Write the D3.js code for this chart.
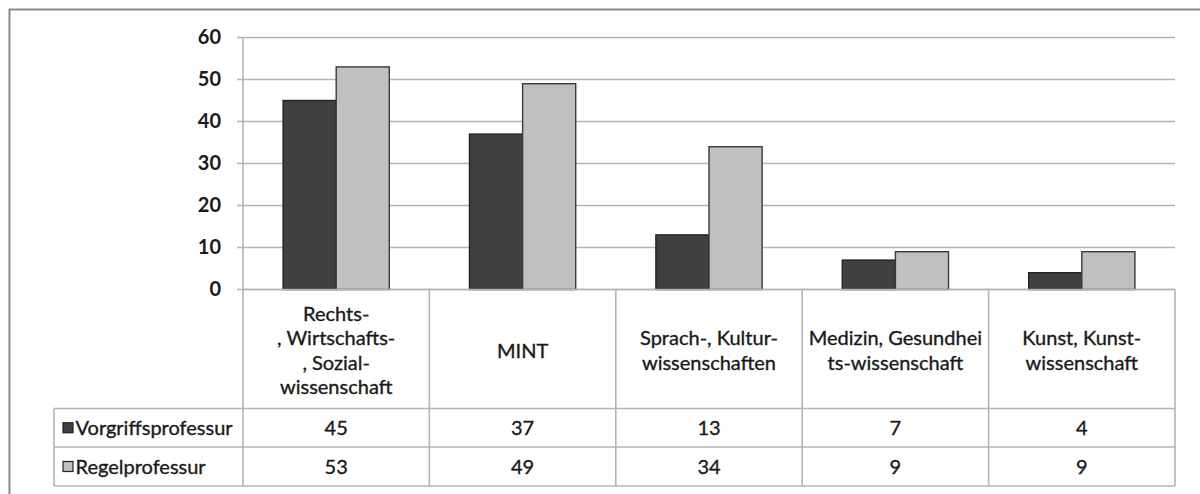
<!DOCTYPE html>
<html><head><meta charset="utf-8">
<script src="https://cdn.jsdelivr.net/npm/d3@7"></script>
<style>body{margin:0;background:#fff}svg{display:block}text{font-family:Lato,"Open Sans",sans-serif;fill:#1a1a1a}</style>
</head><body><svg id="c" width="1200" height="494"></svg>
<script>
const categories = ["Rechts-\n, Wirtschafts-\n, Sozial-\nwissenschaft","MINT","Sprach-, Kultur-\nwissenschaften","Medizin, Gesundhei\nts-wissenschaft","Kunst, Kunst-\nwissenschaft"];
const seriesNames = ["Vorgriffsprofessur","Regelprofessur"];
const vorgriff = [45,37,13,7,4];
const regel = [53,49,34,9,9];
const yTicks = [0,10,20,30,40,50,60];
const series = [vorgriff, regel];
const colors = ["#404040","#c0c0c0"];
const strokes = ["#222","#3a3a3a"];

const svg = d3.select("#c");
const L = 243, R = 1175, T = 37.5, B = 289.5;
const legendX = 54;
const rowY = [B, 408.5, 447, 486];
const grid = "#b4b4b4";

// outer frame
svg.append("path").attr("d","M9.5,494 V9.5 H1200").attr("fill","none").attr("stroke","#8a8a8a").attr("stroke-width",2);

const x = d3.scaleBand().domain(d3.range(categories.length)).range([L,R]).paddingInner(0).paddingOuter(0);
const x1 = d3.scaleBand().domain([0,1]).range([0,x.bandwidth()]).paddingInner(0).paddingOuter(0.755);
const y = d3.scaleLinear().domain([0,60]).range([B,T]);

// gridlines
svg.append("g").selectAll("line").data(yTicks).join("line")
  .attr("x1",L-6).attr("x2",R).attr("y1",d=>y(d)).attr("y2",d=>y(d))
  .attr("stroke",grid).attr("stroke-width",1.6);
// y axis
const yAxis = d3.axisLeft(y).tickValues(yTicks).tickSize(0).tickPadding(22);
const ga = svg.append("g").attr("transform",`translate(${L},0)`).call(yAxis);
ga.select(".domain").remove();
ga.selectAll("text").attr("font-size",20).attr("font-weight",700).style("font-family","Lato,sans-serif").attr("fill","#1a1a1a");

// bars
series.forEach((s,si)=>{
  svg.append("g").selectAll("rect").data(s).join("rect")
    .attr("x",(d,i)=>x(i)+x1(si)).attr("width",x1.bandwidth())
    .attr("y",d=>y(d)).attr("height",d=>y(0)-y(d))
    .attr("fill",colors[si]).attr("stroke",strokes[si]).attr("stroke-width",1.4);
});

// axis line
svg.append("line").attr("x1",L).attr("x2",L).attr("y1",T).attr("y2",rowY[3]).attr("stroke",grid).attr("stroke-width",1.6);

// table lines
const tg = svg.append("g").attr("stroke",grid).attr("stroke-width",1.6);
tg.append("line").attr("x1",L).attr("x2",R).attr("y1",rowY[0]).attr("y2",rowY[0]);
[1,2,3].forEach(r=>tg.append("line").attr("x1",legendX).attr("x2",R).attr("y1",rowY[r]).attr("y2",rowY[r]));
tg.append("line").attr("x1",legendX).attr("x2",legendX).attr("y1",rowY[1]).attr("y2",rowY[3]);
d3.range(categories.length).forEach(i=>tg.append("line").attr("x1",x(i)+x.bandwidth()).attr("x2",x(i)+x.bandwidth()).attr("y1",rowY[0]).attr("y2",rowY[3]));

// header labels
const fs = 20;
const tstyle = t => t.attr("stroke","#1a1a1a").attr("stroke-width",0.35);
categories.forEach((c,i)=>{
  const lines = c.split("\n");
  const cy = (rowY[0]+rowY[1])/2 + 1.5;
  const lh = 24.5;
  const t = svg.append("text").attr("text-anchor","middle").attr("font-size",fs)
    .attr("x",x(i)+x.bandwidth()/2).call(tstyle);
  lines.forEach((ln,k)=>{
    t.append("tspan").attr("x",x(i)+x.bandwidth()/2)
     .attr("y",cy + (k-(lines.length-1)/2)*lh).attr("dy","0.35em").text(ln);
  });
});

// data rows
series.forEach((s,si)=>{
  const cy = (rowY[si+1]+rowY[si+2])/2;
  svg.append("g").selectAll("text").data(s).join("text")
    .attr("x",(d,i)=>x(i)+x.bandwidth()/2).attr("y",cy).attr("dy","0.35em")
    .attr("text-anchor","middle").attr("font-size",fs).call(tstyle).text(d=>d);
  svg.append("rect").attr("x",63).attr("y",cy-5).attr("width",10).attr("height",10)
    .attr("fill",colors[si]).attr("stroke","#222").attr("stroke-width",1.2);
  svg.append("text").attr("x",75.5).attr("y",cy).attr("dy","0.35em").attr("font-size",fs).call(tstyle).text(seriesNames[si]);
});
</script></body></html>
